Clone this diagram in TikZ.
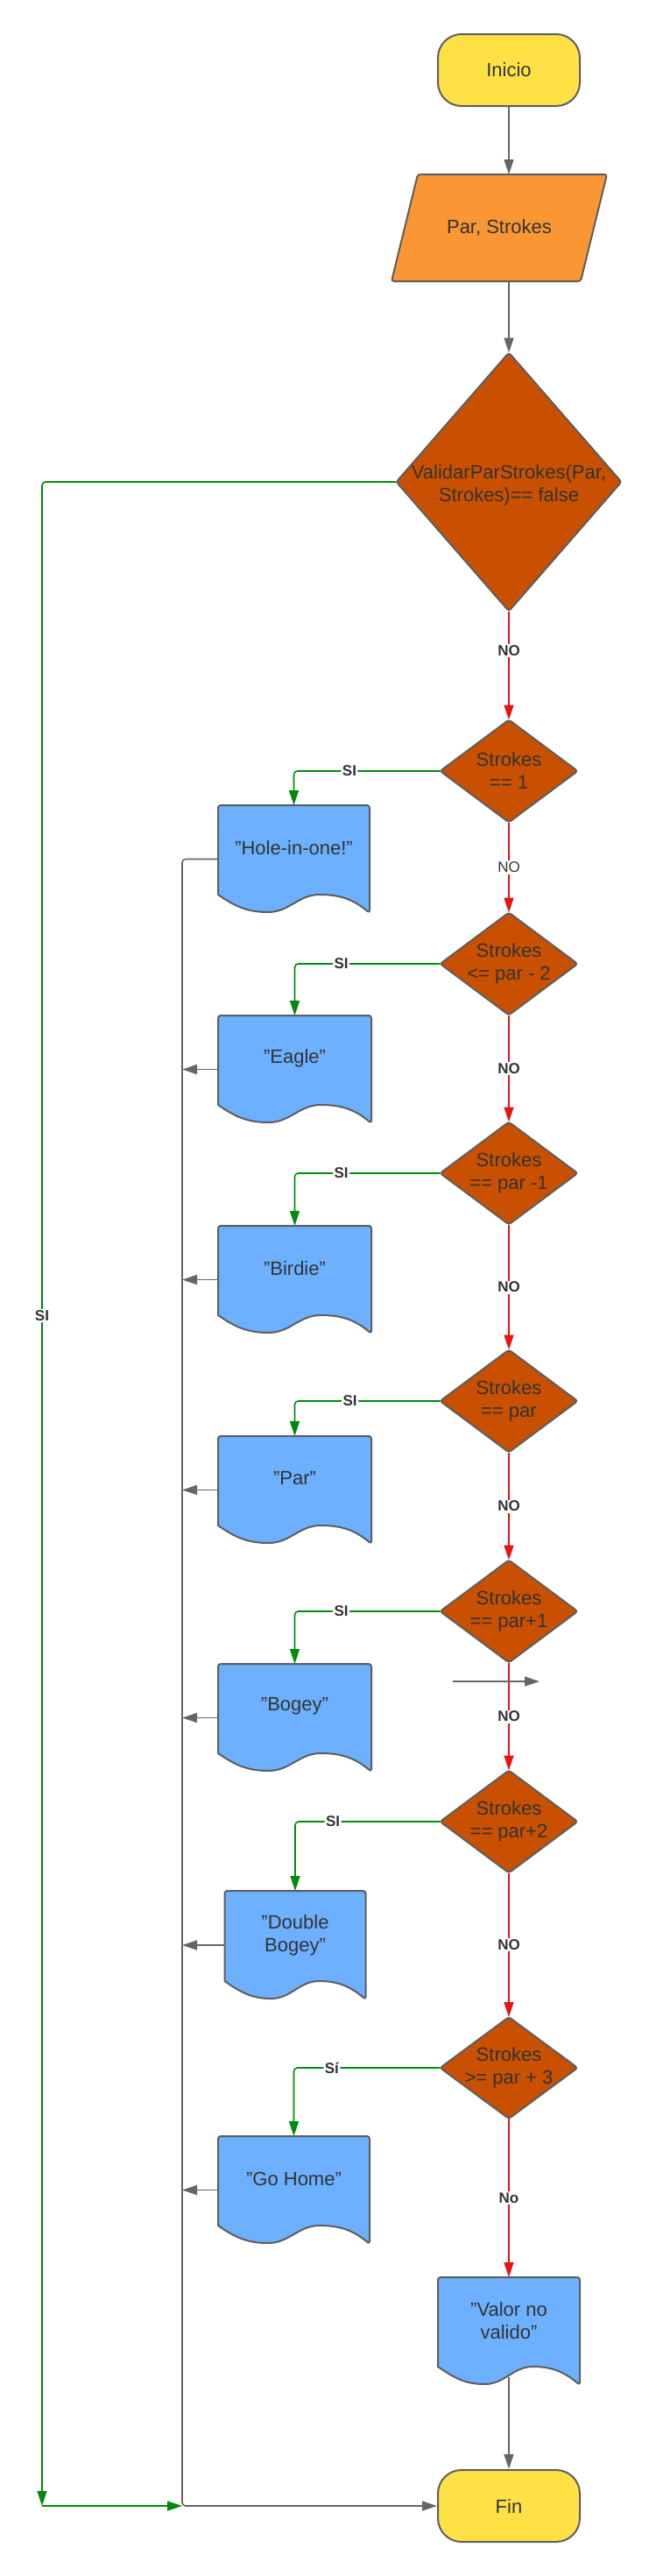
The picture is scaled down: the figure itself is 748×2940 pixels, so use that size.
\documentclass[tikz,border=0pt]{standalone}
\usepackage{fontspec}
\setmainfont{Liberation Sans}
\usetikzlibrary{arrows.meta,backgrounds,calc}

\definecolor{termfill}{HTML}{FFE145}
\definecolor{iofill}{HTML}{FA9633}
\definecolor{decfill}{HTML}{C85000}
\definecolor{docfill}{HTML}{6CB0FF}
\definecolor{bordergray}{HTML}{5E5E5E}
\definecolor{linegray}{HTML}{666666}
\definecolor{yesgreen}{HTML}{008A0E}
\definecolor{nored}{HTML}{E81313}
\definecolor{txtc}{HTML}{333333}

\newcommand{\docshape}[1]{%
  \begin{scope}[on background layer]
    \draw[docstyle] ($(#1.south west)+(0,-21)$) [rounded corners=3pt] -- (#1.north west) -- (#1.north east) -- (#1.south east) [sharp corners]
      to[out=140,in=0] ($(#1.south west)!0.67!(#1.south east)+(0,-21)$)
      to[out=180,in=0] ($(#1.south west)!0.33!(#1.south east)+(0,-1)$)
      to[out=180,in=-35] ($(#1.south west)+(0,-21)$) -- cycle;
  \end{scope}}
\newcommand{\decshape}[1]{%
  \begin{scope}[on background layer]
    \draw[decstyle] (#1.north) -- (#1.east) -- (#1.south) -- (#1.west) -- cycle;
  \end{scope}}

\begin{document}
\begin{tikzpicture}[x=1pt,y=-1pt,
  every node/.style={text=txtc, font=\fontsize{22}{26}\selectfont, align=center},
  term/.style={draw=bordergray, line width=2pt, fill=termfill, rounded corners=27pt, minimum width=162pt, minimum height=82pt, inner sep=0pt},
  holder/.style={inner sep=0pt, outer sep=0pt},
  decn/.style={holder, minimum width=157pt, minimum height=117pt},
  docn/.style={holder, minimum width=175pt, minimum height=123pt},
  docstyle/.style={draw=bordergray, line width=2pt, fill=docfill, line join=round},
  decstyle/.style={draw=bordergray, line width=2pt, fill=decfill, rounded corners=3pt},
  iostyle/.style={draw=bordergray, line width=2pt, fill=iofill, rounded corners=3pt},
  flow/.style={draw=linegray, line width=1.6pt, -{Triangle[length=17pt,width=11pt]}},
  yes/.style={draw=yesgreen, line width=1.6pt, -{Triangle[length=17pt,width=11pt]}},
  no/.style={draw=nored, line width=1.6pt, -{Triangle[length=17pt,width=11pt]}},
  lbl/.style={fill=white, inner sep=1.5pt, text=txtc, font=\bfseries\fontsize{17}{19}\selectfont},
  lblnb/.style={fill=white, inner sep=1.5pt, text=txtc, font=\fontsize{17}{19}\selectfont}
]
\useasboundingbox (0,0) rectangle (748,2940);

% terminals and input
\node[term] (start) at (581,80) {Inicio};
\node[holder, minimum width=246pt, minimum height=122pt] (io) at (570,260) {Par, Strokes};
\begin{scope}[on background layer]
  \draw[iostyle] ($(io.center)+(-93,-61)$) -- ($(io.center)+(123,-61)$) -- ($(io.center)+(93,61)$) -- ($(io.center)+(-123,61)$) -- cycle;
\end{scope}
\node[term] (fin) at (581,2860) {Fin};

% decisions
\node[holder, minimum width=257pt, minimum height=295pt] (d0) at (581,550) {\\[-2pt]ValidarParStrokes(Par,\\Strokes)== false};
\decshape{d0}
\node[decn] (d1) at (581,880) {Strokes\\== 1}; \decshape{d1}
\node[decn] (d2) at (581,1100) {Strokes\\<= par - 2}; \decshape{d2}
\node[decn] (d3) at (581,1339) {Strokes\\== par -1}; \decshape{d3}
\node[decn] (d4) at (581,1599) {Strokes\\== par}; \decshape{d4}
\node[decn] (d5) at (581,1839) {Strokes\\== par+1}; \decshape{d5}
\node[decn] (d6) at (581,2079) {Strokes\\== par+2}; \decshape{d6}
\node[decn, minimum height=116pt] (d7) at (581,2360) {Strokes\\>= par + 3}; \decshape{d7}

% documents
\node[docn, minimum width=173pt] (hole) at (335.5,980.5) {};
\node (holeT) at ($(hole.center)+(0,-13)$) {"Hole-in-one!"}; \docshape{hole}
\node[docn] (eagle) at (336.5,1220.5) {};
\node (eagleT) at ($(eagle.center)+(0,-13)$) {"Eagle"}; \docshape{eagle}
\node[docn] (birdie) at (336.5,1460.5) {};
\node (birdieT) at ($(birdie.center)+(0,-13)$) {"Birdie"}; \docshape{birdie}
\node[docn] (par) at (336.5,1700.5) {};
\node (parT) at ($(par.center)+(0,-13)$) {"Par"}; \docshape{par}
\node[docn] (bogey) at (336.5,1960.5) {};
\node (bogeyT) at ($(bogey.center)+(0,-13)$) {"Bogey"}; \docshape{bogey}
\node[docn, minimum width=161pt, minimum height=124pt] (dbogey) at (337,2220) {};
\node (dbogeyT) at ($(dbogey.center)+(0,-11)$) {"Double\\Bogey"}; \docshape{dbogey}
\node[docn, minimum width=173pt] (gohome) at (335.5,2499.5) {};
\node (gohomeT) at ($(gohome.center)+(0,-13)$) {"Go Home"}; \docshape{gohome}
\node[docn, minimum width=162pt] (valor) at (581,2660.5) {};
\node (valorT) at ($(valor.center)+(0,-11.5)$) {"Valor no\\valido"}; \docshape{valor}

% helper coordinates
\coordinate (bus) at (208,0);
\coordinate (gcol) at (48,0);
\coordinate (gend) at (gcol |- fin.west);
\coordinate (s1) at (517,1919);
\coordinate (s2) at (616,1919);

% main flow
\draw[flow] (start.south) -- (start.south |- io.north);
\draw[flow] (d0.north |- io.south) -- (d0.north);
\draw[no] (d0.south) -- node[lbl, pos=0.36]{NO} (d1.north);
\draw[no] (d1.south) -- node[lblnb]{NO} (d2.north);
\draw[no] (d2.south) -- node[lbl]{NO} (d3.north);
\draw[no] (d3.south) -- node[lbl]{NO} (d4.north);
\draw[no] (d4.south) -- node[lbl]{NO} (d5.north);
\draw[no] (d5.south) -- node[lbl]{NO} (d6.north);
\draw[no] (d6.south) -- node[lbl]{NO} (d7.north);
\draw[no] (d7.south) -- node[lbl]{No} (valor.north);
\draw[flow] ($(valor.south)+(0,-9)$) -- (fin.north);

% yes branches
\draw[yes, rounded corners=4pt] (d1.west) -| node[lbl, pos=0.31]{SI} (hole.north);
\draw[yes, rounded corners=4pt] (d2.west) -| node[lbl, pos=0.34]{SI} (eagle.north);
\draw[yes, rounded corners=4pt] (d3.west) -| node[lbl, pos=0.34]{SI} (birdie.north);
\draw[yes, rounded corners=4pt] (d4.west) -| node[lbl, pos=0.31]{SI} (par.north);
\draw[yes, rounded corners=4pt] (d5.west) -| node[lbl, pos=0.34]{SI} (bogey.north);
\draw[yes, rounded corners=4pt] (d6.west) -| node[lbl, pos=0.37]{SI} (dbogey.north);
\draw[yes, rounded corners=4pt] (d7.west) -| node[lbl, pos=0.37]{Sí} (gohome.north);
\draw[yes, rounded corners=4pt] (d0.west) -| node[lbl, pos=0.706]{SI} (gend);
\draw[yes] (gend) -- (gend -| bus);

% return bus
\draw[flow, rounded corners=4pt] (hole.west) -- (hole.west -| bus) -- (bus |- fin.west) -- (fin.west);
\draw[flow] (eagle.west) -- (eagle.west -| bus);
\draw[flow] (birdie.west) -- (birdie.west -| bus);
\draw[flow] (par.west) -- (par.west -| bus);
\draw[flow] (bogey.west) -- (bogey.west -| bus);
\draw[flow] (dbogey.west) -- (dbogey.west -| bus);
\draw[flow] (gohome.west) -- (gohome.west -| bus);

% stray arrow
\draw[flow] (s1) -- (s2);
\end{tikzpicture}
\end{document}
